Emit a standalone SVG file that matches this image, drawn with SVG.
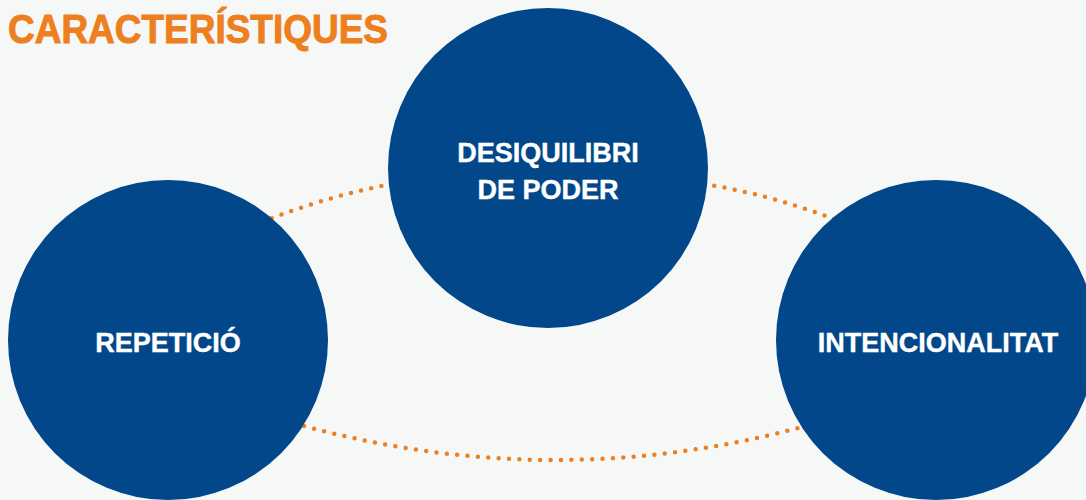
<svg xmlns="http://www.w3.org/2000/svg" width="1086" height="500" viewBox="0 0 1086 500">
<style>
.bg{fill:#F6F8F8}
.node{fill:#01478A}
.lbl{fill:#FFFFFF;stroke:#FFFFFF;stroke-width:0.4;font-family:"Liberation Sans",Arial,sans-serif;font-weight:bold;font-size:27px;text-anchor:middle}
.title{fill:#EE7F1F;stroke:#EE7F1F;stroke-width:1;font-family:"Liberation Sans",Arial,sans-serif;font-weight:bold;font-size:41px}
.dots{fill:none;stroke:#EE7F1F;stroke-width:4.5;stroke-linecap:round;stroke-dasharray:0 10.4}
</style>
<rect class="bg" x="0" y="0" width="1086" height="500"/>
<text class="title" x="8" y="43" textLength="380" lengthAdjust="spacingAndGlyphs">CARACTERÍSTIQUES</text>
<g id="connectors">
<path class="dots" d="M262,222 Q327,196 392,184"/>
<path class="dots" d="M704,184 Q773,195 842,222"/>
<path class="dots" d="M304,426 Q555,494 806,426"/>
</g>
<g id="node-desiquilibri">
<circle class="node" cx="548" cy="168" r="160"/>
<text class="lbl" x="548" y="162">DESIQUILIBRI</text>
<text class="lbl" x="548" y="199">DE PODER</text>
</g>
<g id="node-repeticio">
<circle class="node" cx="168" cy="340" r="160"/>
<text class="lbl" x="168" y="352">REPETICIÓ</text>
</g>
<g id="node-intencionalitat">
<circle class="node" cx="936" cy="340" r="160"/>
<text class="lbl" x="938" y="352">INTENCIONALITAT</text>
</g>
</svg>
